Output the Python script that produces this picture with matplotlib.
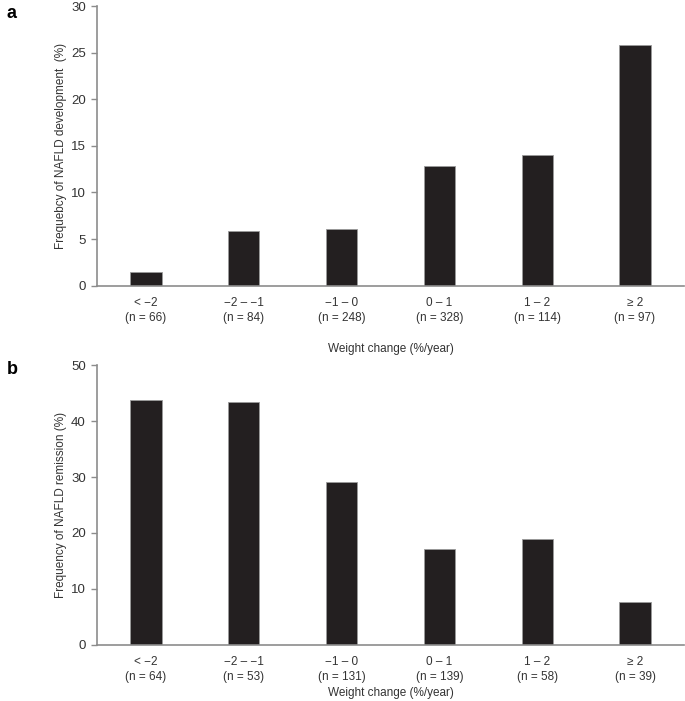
import numpy as np
import matplotlib
matplotlib.use("Agg")
import matplotlib.pyplot as plt

plt.rcParams['font.family'] = ['Liberation Sans', 'DejaVu Sans']

# categories (weight change, %/year)
groups = ['< \u22122', '\u22122 \u2013 \u22121', '\u22121 \u2013 0', '0 \u2013 1', '1 \u2013 2', '\u2265 2']

# panel a: NAFLD development
n_dev = [66, 84, 248, 328, 114, 97]
freq_dev = [1.45, 5.9, 6.05, 12.8, 14.0, 25.8]

# panel b: NAFLD remission
n_rem = [64, 53, 131, 139, 58, 39]
freq_rem = [43.8, 43.4, 29.1, 17.2, 18.9, 7.6]

bar_col = '#231f20'
axis_col = '#8c8c8c'
text_col = '#333333'

fig = plt.figure(figsize=(6.85, 7.01), dpi=100)
ax1 = fig.add_axes([0.1416, 0.5924, 0.8569, 0.399])
ax2 = fig.add_axes([0.1416, 0.0799, 0.8569, 0.3994])

def style(ax, vals, ns, ymax, step, ylabel, labelpad):
    x = np.arange(len(groups))
    ax.bar(x, vals, width=0.32, color=bar_col, edgecolor='#9a9a9a', linewidth=0.6)
    ax.set_xlim(-0.5, len(groups) - 0.5)
    ax.set_ylim(0, ymax)
    ax.set_yticks(np.arange(0, ymax + 1, step))
    ax.set_xticks(x)
    ax.set_xticklabels([f'{g}\n(n = {n})' for g, n in zip(groups, ns)],
                       fontsize=8.5, color=text_col, linespacing=1.35)
    ax.tick_params(axis='x', length=0, pad=8)
    ax.tick_params(axis='y', length=4, width=1, color=axis_col, labelsize=9.5,
                   labelcolor=text_col, pad=4)
    for s in ['top', 'right']:
        ax.spines[s].set_visible(False)
    for s in ['left', 'bottom']:
        ax.spines[s].set_color(axis_col)
        ax.spines[s].set_linewidth(1.2)
    ax.set_ylabel(ylabel, fontsize=8.5, color=text_col, labelpad=3)
    ax.set_xlabel('Weight change (%/year)', fontsize=8.5, color=text_col, labelpad=labelpad)

style(ax1, freq_dev, n_dev, 30, 5, 'Frequebcy of NAFLD development  (%)', 14)
style(ax2, freq_rem, n_rem, 50, 10, 'Frequency of NAFLD remission (%)', 3)

fig.text(0.01, 0.993, 'a', fontsize=13, fontweight='bold', va='top')
fig.text(0.01, 0.485, 'b', fontsize=13, fontweight='bold', va='top')

fig.savefig('out.png', dpi=100)
